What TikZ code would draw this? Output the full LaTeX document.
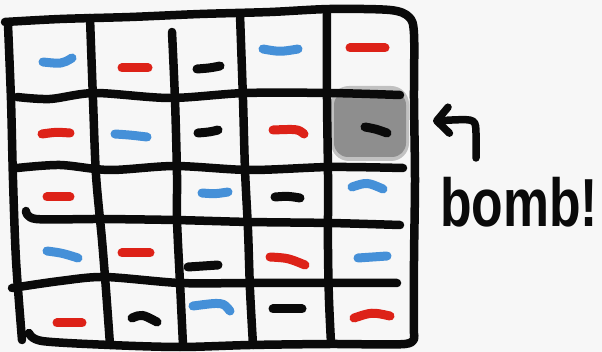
\documentclass[tikz,border=0pt]{standalone}
\usepackage{fontspec}
\setmainfont{Liberation Sans}
\usetikzlibrary{arrows.meta, positioning}
\definecolor{paper}{HTML}{F7F7F7}
\definecolor{inkred}{HTML}{DD2218}
\definecolor{inkblue}{HTML}{4590D8}
\definecolor{inkblack}{HTML}{0A0A0A}
\definecolor{bombgray}{HTML}{8E8E8E}

\newcommand{\DrawDashes}{
    % Cada traço: ponto inicial / controle / ponto final / cor
    \foreach \ax/\ay/\cx/\cy/\bx/\by/\col in {
        43/62/62/64/72/58/inkblue, 122/68/135/68/148/68/inkred, 197/69/210/68/220/66/inkblack,
        263/49/280/52/298/49/inkblue, 350/48/367/48/385/48/inkred,
        42/134/56/132/70/133/inkred, 115/134/130/135/147/137/inkblue, 198/133/210/132/218/130/inkblack,
        273/130/298/129/304/134/inkred, 365/127/376/129/387/133/inkblack,
        47/197/58/197/70/197/inkred, 202/193/215/194/228/192/inkblue,
        275/197/288/196/300/198/inkblack, 352/187/367/182/383/189/inkblue,
        47/251/62/253/78/258/inkblue, 122/253/136/253/150/253/inkred, 188/267/203/266/218/265/inkblack,
        270/257/288/258/305/265/inkred, 358/258/372/257/387/256/inkblue,
        57/323/70/323/82/323/inkred, 132/318/142/314/157/322/inkblack, 193/306/223/302/230/311/inkblue,
        273/309/288/309/302/309/inkblack, 354/318/372/312/390/316/inkred} {
        \draw[dashline, color=\col] (\ax,\ay) .. controls (\cx,\cy) .. (\bx,\by);
    }
}

\begin{document}
\begin{tikzpicture}[x=1pt, y=-1pt,
    gridline/.style={inkblack, line width=8.5pt, line cap=round, line join=round},
    dashline/.style={line width=9pt, line cap=round}]
    \useasboundingbox (0,0) rectangle (602,352);
    \fill[paper] (0,0) rectangle (602,352);

    % Célula da bomba
    \fill[bombgray!55, rounded corners=18pt] (331,86) rectangle (409,161);
    \fill[bombgray, rounded corners=14pt] (334,91) rectangle (406,157);

    % Linhas horizontais
    \draw[gridline] plot[smooth] coordinates {(5,22) (60,19) (130,17) (200,14) (270,12) (330,9) (390,10) (409,17) (414,34) (414,100) (415,180) (414,260) (414,336)};
    \draw[gridline] plot[smooth] coordinates {(17,97) (50,99) (95,93) (170,98) (245,93) (330,93) (400,95)};
    \draw[gridline] plot[smooth] coordinates {(17,168) (60,165) (110,170) (175,166) (250,170) (330,167) (403,168)};
    \draw[gridline] plot[smooth] coordinates {(26,211) (36,219) (100,219) (175,220) (250,222) (330,223) (400,225)};
    \draw[gridline] plot[smooth] coordinates {(12,288) (60,281) (105,277) (180,283) (250,283) (330,283) (397,283)};
    \draw[gridline] plot[smooth] coordinates {(29,333) (42,341) (110,345) (180,347) (250,345) (330,344) (405,344) (414,336)};

    % Linhas verticais
    \draw[gridline] plot[smooth] coordinates {(8,25) (11,100) (13,180) (16,260) (22,340)};
    \draw[gridline] plot[smooth] coordinates {(90,18) (93,100) (96,175) (102,240) (106,290) (110,345)};
    \draw[gridline] plot[smooth] coordinates {(172,32) (175,100) (177,175) (177,220) (180,283) (183,345)};
    \draw[gridline] plot[smooth] coordinates {(240,15) (243,100) (245,170) (248,230) (250,290) (253,345)};
    \draw[gridline] plot[smooth] coordinates {(327,10) (327,100) (328,175) (328,250) (329,300) (331,343)};

    \DrawDashes

    % Rótulo e seta
    \node[anchor=base west, inner sep=0pt, inkblack] (bombtxt) at (440,227)
        {\fontsize{68}{68}\selectfont\bfseries\scalebox{0.76}[1]{bomb!}};
    \coordinate (ArrowStart) at (476,158);
    \coordinate (ArrowTip) at (433,121);
    \draw[inkblack, line width=7.5pt, line cap=round, line join=round,
          -{Straight Barb[length=12pt, width=26pt, round]}]
        (ArrowStart) -- (476,136) .. controls (476,119) .. (452,120) -- (ArrowTip);
\end{tikzpicture}
\end{document}
